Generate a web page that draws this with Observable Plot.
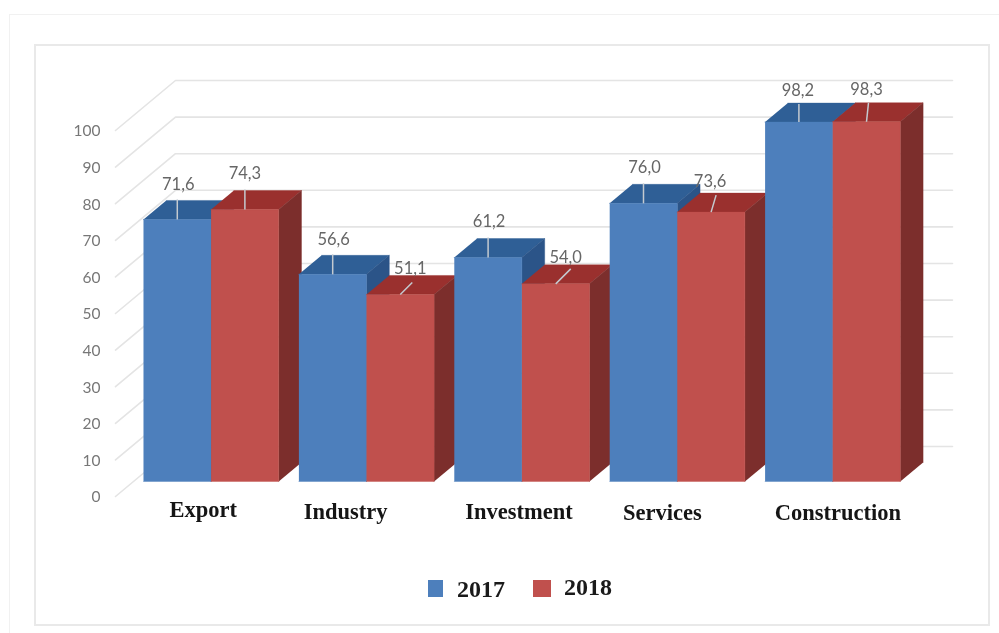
<!DOCTYPE html>
<html>
<head>
<meta charset="utf-8">
<script src="https://cdn.jsdelivr.net/npm/d3@7"></script>
<script src="https://cdn.jsdelivr.net/npm/@observablehq/plot@0.6"></script>
<style>
  html, body { margin: 0; padding: 0; background: #fff; overflow: hidden; }
  #page { position: relative; width: 999px; height: 633px; overflow: hidden; filter: blur(0.4px); }
  .frame { position: absolute; box-sizing: border-box; }
  #outer { left: 9px; top: 14px; width: 1100px; height: 700px; border: 1px solid #f1f1f1; }
  #inner { left: 34px; top: 44px; width: 956px; height: 582px; border: 2px solid #e9e9e9; }
  #chart { position: absolute; left: 0; top: 0; }
  #chart svg { background: transparent; display: block; }
  #legend { position: absolute; left: 0; top: 0; width: 999px; height: 633px; pointer-events: none;
    font: bold 24px "Liberation Serif", serif; color: #1a1a1a; }
  #legend span { position: absolute; line-height: 28px; }
  #legend i { position: absolute; height: 17px; }
</style>
</head>
<body>
<div id="page">
  <div class="frame" id="outer"></div>
  <div class="frame" id="inner"></div>
  <div id="chart"></div>
  <div id="legend"></div>
</div>
<script>
// ---- data ----
const categories = ["Export", "Industry", "Investment", "Services", "Construction"];
const series2017 = [71.6, 56.6, 61.2, 76.0, 98.2];
const series2018 = [74.3, 51.1, 54.0, 73.6, 98.3];
const seriesNames = ["2017", "2018"];
const yTicks = [0, 10, 20, 30, 40, 50, 60, 70, 80, 90, 100];

// ---- styles ----
const faceColors = {
  "2017": {front: "#4d7fbc", top: "#2f5f96", side: "#2b5488"},
  "2018": {front: "#c0504d", top: "#9a302e", side: "#7c2e2c"}
};
const gridColor = "#e4e4e4";

// ---- layout: 3D projection, in scale units ----
const width = 999, height = 540;
const marginLeft = 115, marginRight = 47, marginTop = 80, marginBottom = 44;
const depthX = 0.386;    // wall depth along x, in category widths
const depthY = 13.66;    // wall depth along y, in value units
const gap = 0.0643, barW = 0.435;
const zFront = 0.3, zBack = 0.68;
const xSpan = categories.length + depthX, ySpan = 100 + depthY;
const pxX = (width - marginLeft - marginRight) / xSpan;
const pxY = (height - marginTop - marginBottom) / ySpan;
const project = (x, v, z) => ({x: x + depthX * z, y: v + depthY * z});

// pixel nudges for labels, bar by bar
const valueNudge = [[1,-35],[0,-36],[1,-35],[10,-26],[1,-36],[10,-26],[1,-36],[-1,-30],[-1,-31],[0,-32]];
const leaderNudge = [[0,-20],[0,-20],[0,-20],[12,-12],[0,-20],[15,-15],[0,-20],[5,-17],[0,-18],[2,-19]];
const catNudge = [[-8,28],[-21,30],[-3,30],[-15,31],[5,31]];

// ---- derived tables ----
const bars = categories.flatMap((c, i) => [series2017[i], series2018[i]].map((v, s) => ({
  cat: i, series: seriesNames[s], value: v, x0: i + gap + s * barW, x1: i + gap + (s + 1) * barW
})));

const polygons = bars.flatMap((b, k) => {
  const col = faceColors[b.series];
  const face = (name, color, pts) => pts.map(([x, v, z]) => ({...project(x, v, z), id: k + name, color}));
  return [
    ...face("top", col.top, [[b.x0,b.value,zFront],[b.x1,b.value,zFront],[b.x1,b.value,zBack],[b.x0,b.value,zBack]]),
    ...face("side", col.side, [[b.x1,0,zFront],[b.x1,b.value,zFront],[b.x1,b.value,zBack],[b.x1,0,zBack]]),
    ...face("front", col.front, [[b.x0,0,zFront],[b.x1,0,zFront],[b.x1,b.value,zFront],[b.x0,b.value,zFront]])
  ];
});

const grid = yTicks.flatMap(v => [
  {...project(0, v, 0), v},
  {...project(0, v, 1), v},
  {...project(categories.length, v, 1), v}
]);

const leaders = bars.map((b, k) => {
  const p = project((b.x0 + b.x1) / 2, b.value, zFront);
  return {x1: p.x, y1: p.y, x2: p.x + leaderNudge[k][0] / pxX, y2: p.y - leaderNudge[k][1] / pxY};
});

const valueLabels = bars.map((b, k) => {
  const p = project((b.x0 + b.x1) / 2, b.value, zFront);
  return Plot.text([b.value.toFixed(1).replace(".", ",")], {
    x: () => p.x, y: () => p.y, text: d => d,
    dx: valueNudge[k][0], dy: valueNudge[k][1],
    fontSize: 16.5, fill: "#666666", fontFamily: "Lato", textAnchor: "middle"
  });
});

const catLabels = categories.map((c, i) => {
  const p = project(i + 0.5, 0, zFront);
  return Plot.text([c], {
    x: () => p.x, y: () => p.y, text: d => d,
    dx: catNudge[i][0], dy: catNudge[i][1],
    fontSize: 22.5, fontWeight: "bold", fill: "#151515", fontFamily: "Liberation Serif"
  });
});

const chart = Plot.plot({
  width, height, marginLeft, marginRight, marginTop, marginBottom,
  x: {domain: [0, xSpan], axis: null},
  y: {domain: [0, ySpan]},
  style: {background: "transparent", overflow: "visible"},
  marks: [
    Plot.line(grid, {x: "x", y: "y", z: "v", stroke: gridColor, strokeWidth: 1.6}),
    Plot.axisY({ticks: yTicks, tickSize: 0, tickPadding: 15, label: null, fontSize: 15.5, dy: 1,
      fill: "#777777", fontFamily: "Lato"}),
    Plot.line(polygons, {
      x: "x", y: "y", z: "id",
      fill: {value: "color", scale: null},
      stroke: {value: "color", scale: null},
      strokeWidth: 0.4
    }),
    Plot.link(leaders, {x1: "x1", y1: "y1", x2: "x2", y2: "y2", stroke: "#c4cad0", strokeWidth: 1.5}),
    ...valueLabels,
    ...catLabels
  ]
});
document.getElementById("chart").appendChild(chart);

// ---- legend ----
const legend = document.getElementById("legend");
seriesNames.forEach((name, i) => {
  const sw = document.createElement("i");
  sw.style.background = faceColors[name].front;
  sw.style.left = (i ? 533 : 428) + "px";
  sw.style.width = (i ? 18 : 15) + "px";
  sw.style.top = "580px";
  legend.appendChild(sw);
  const t = document.createElement("span");
  t.textContent = name;
  t.style.left = (i ? 564 : 457) + "px";
  t.style.top = (i ? 573 : 575) + "px";
  legend.appendChild(t);
});
</script>
</body>
</html>
